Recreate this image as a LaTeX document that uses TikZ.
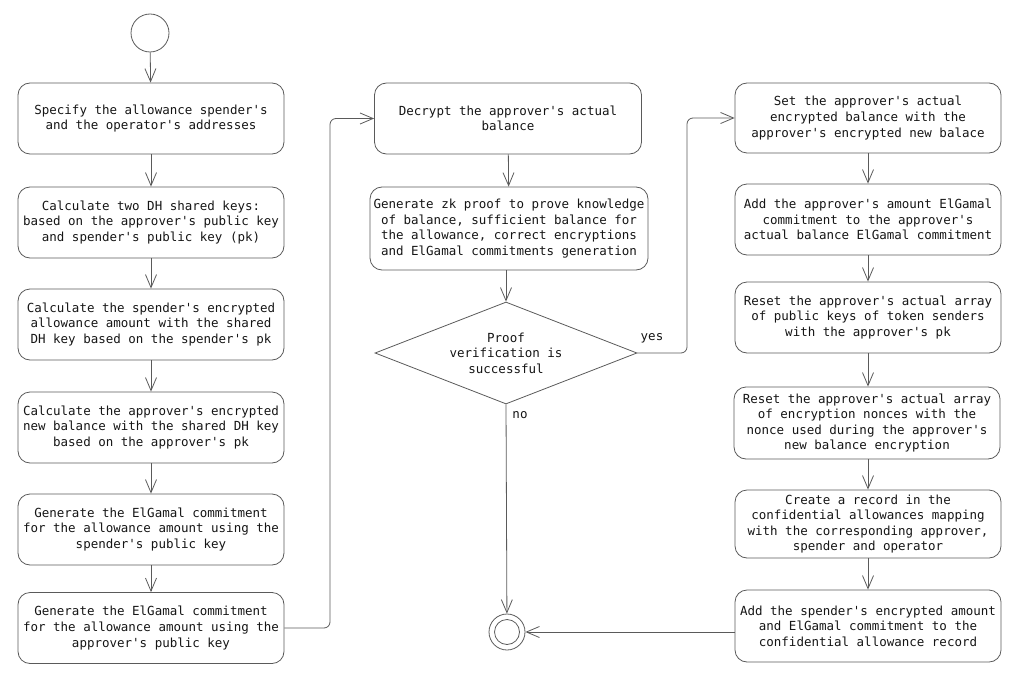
\documentclass[tikz,border=0pt]{standalone}
\usepackage{fontspec}
\setmonofont{DejaVu Sans Mono}
\usetikzlibrary{arrows.meta,shapes.geometric}

\definecolor{edge}{HTML}{5A5A5A}
\definecolor{ink}{HTML}{151515}

\tikzset{
  action/.style={rectangle, draw=edge, rounded corners=12pt, line width=0.8pt,
    minimum width=266pt, minimum height=71pt, align=center, text=ink,
    font=\fontsize{12.5}{15.6}\selectfont\ttfamily, inner sep=2pt},
  flow/.style={draw=edge, line width=0.8pt, -{Straight Barb[length=13pt,width=11pt]}},
  tag/.style={text=ink, font=\fontsize{12.5}{15.6}\selectfont\ttfamily}
}

\begin{document}
\begin{tikzpicture}[x=1pt, y=-1pt]
  \useasboundingbox (0,0) rectangle (1024,679);

  % left column
  \node (start) [circle, draw=edge, line width=0.8pt, minimum size=38pt] at (150, 33) {};
  \node (spec-addr) [action] at (151, 118.5) {Specify the allowance spender's\\and the operator's addresses};
  \node (dh-keys) [action] at (151, 222.5) {Calculate two DH shared keys:\\based on the approver's public key\\and spender's public key (pk)};
  \node (enc-allow) [action] at (151, 324.5) {Calculate the spender's encrypted\\allowance amount with the shared\\DH key based on the spender's pk};
  \node (enc-bal) [action] at (151, 427.5) {Calculate the approver's encrypted\\new balance with the shared DH key\\based on the approver's pk};
  \node (com-spender) [action] at (151, 529.5) {Generate the ElGamal commitment\\for the allowance amount using the\\spender's public key};
  \node (com-approver) [action] at (151, 628) {Generate the ElGamal commitment\\for the allowance amount using the\\approver's public key};

  % middle column
  \node (decrypt) [action, minimum width=267pt] at (508, 118.5) {Decrypt the approver's actual\\balance};
  \node (zk-proof) [action, minimum width=278pt, minimum height=83pt] at (509, 228.5) {Generate zk proof to prove knowledge\\of balance, sufficient balance for\\the allowance, correct encryptions\\and ElGamal commitments generation};
  \node (verify) [diamond, draw=edge, line width=0.8pt, shape aspect=2.6, inner sep=0pt,
    minimum width=262pt, minimum height=102pt, align=center, tag] at (506, 353) {Proof\\verification is\\successful};
  \node (stop) [circle, draw=edge, line width=0.8pt, minimum size=36pt] at (507, 632) {};
  \node (stop-in) [circle, draw=edge, line width=0.8pt, minimum size=25pt] at (stop) {};

  % right column
  \node (set-bal) [action, minimum height=70pt] at (868, 118) {Set the approver's actual\\encrypted balance with the\\approver's encrypted new balace};
  \node (add-com) [action] at (868, 219.5) {Add the approver's amount ElGamal\\commitment to the approver's\\actual balance ElGamal commitment};
  \node (reset-pk) [action] at (868, 317.5) {Reset the approver's actual array\\of public keys of token senders\\with the approver's pk};
  \node (reset-nonce) [action, minimum height=72pt] at (867, 423) {Reset the approver's actual array\\of encryption nonces with the\\nonce used during the approver's\\new balance encryption};
  \node (record) [action, minimum height=68pt] at (868, 524) {Create a record in the\\confidential allowances mapping\\with the corresponding approver,\\spender and operator};
  \node (add-allow) [action, minimum height=72pt] at (868, 626) {Add the spender's encrypted amount\\and ElGamal commitment to the\\confidential allowance record};

  \coordinate (bend-left) at (330, 0);
  \coordinate (bend-right) at (687, 0);

  \draw[flow] (start) -- (spec-addr);
  \draw[flow] (spec-addr) -- (dh-keys);
  \draw[flow] (dh-keys) -- (enc-allow);
  \draw[flow] (enc-allow) -- (enc-bal);
  \draw[flow] (enc-bal) -- (com-spender);
  \draw[flow] (com-spender) -- (com-approver);
  \draw[flow, rounded corners=6pt] (com-approver.east) -- (com-approver.east -| bend-left)
    -- (bend-left |- decrypt.west) -- (decrypt.west);

  \draw[flow] (decrypt) -- (zk-proof);
  \draw[flow] (zk-proof.south -| verify.north) -- (verify.north);
  \draw[flow, rounded corners=6pt] (verify.east) -- (verify.east -| bend-right)
    -- (bend-right |- set-bal.west) -- (set-bal.west);
  \draw[flow] (verify.south) -- (stop);

  \draw[flow] (set-bal) -- (add-com);
  \draw[flow] (add-com) -- (reset-pk);
  \draw[flow] (reset-pk.south) -- (reset-pk.south |- reset-nonce.north);
  \draw[flow] (reset-nonce.south -| record.north) -- (record);
  \draw[flow] (record) -- (add-allow);
  \draw[flow] (add-allow.west |- stop) -- (stop);

  \node (yes-tag) [tag] at (652, 338) {yes};
  \node (no-tag) [tag] at (520, 415) {no};
\end{tikzpicture}
\end{document}
